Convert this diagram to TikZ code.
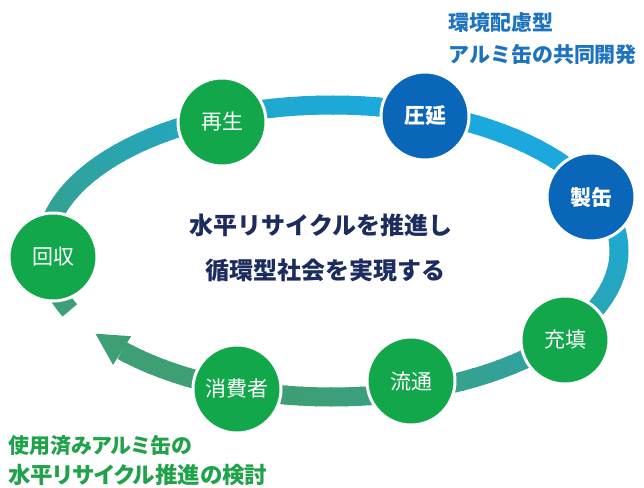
\documentclass[tikz,border=0pt]{standalone}
\usepackage{fontspec}
\setmainfont{Noto Sans CJK JP}
\newfontfamily\jpp[RawFeature=+palt]{Noto Sans CJK JP}
\usetikzlibrary{calc}
\definecolor{ringC}{HTML}{1BA9DD}
\definecolor{ringG}{HTML}{3E9E74}
\definecolor{nodeG}{HTML}{12A74B}
\definecolor{nodeB}{HTML}{0A66B8}
\definecolor{navy}{HTML}{1C2C5E}
\definecolor{topblue}{HTML}{1E73BE}
\definecolor{botgreen}{HTML}{20A24A}
\begin{document}
\begin{tikzpicture}[x=1pt,y=-1pt,
  stage/.style={circle, minimum size=88pt, inner sep=0pt, draw=white, line width=3pt, text=white, font=\fontsize{21}{21}\selectfont},
  greenstage/.style={stage, fill=nodeG},
  bluestage/.style={stage, fill=nodeB, font=\fontsize{21}{21}\selectfont\bfseries},
  maintext/.style={font=\fontsize{24}{24}\selectfont\bfseries, text=navy, inner sep=0pt},
  toptext/.style={font=\fontsize{21}{21}\selectfont\bfseries, text=topblue, anchor=west, inner sep=0pt},
  bottext/.style={text=botgreen, anchor=west, inner sep=0pt}]
\useasboundingbox (0,0) rectangle (644,487);
% ring with gradient
\foreach \t in {156,159,...,495} {
  \pgfmathsetmacro\te{min(\t+3.4,497)}
  \pgfmathsetmacro\mx{cos(\t+1.5)}
  \pgfmathsetmacro\my{sin(\t+1.5)}
  \pgfmathsetmacro\p{max(0,min(100,50+55*(0.6*\mx-0.8*\my)))}
  \colorlet{segc}{ringC!\p!ringG}
  \draw[segc, line width=19pt] plot[domain=\t:\te, samples=4] ({332+287*cos(\x)},{251+146*sin(\x)});
}
\coordinate (hb) at ({332+287*cos(497)},{251+146*sin(497)});
\coordinate (tip) at ({332+287*cos(505.5)},{251+146*sin(505.5)});
\fill[ringG] (tip) -- ($(hb)!17pt!90:(tip)$) -- ($(hb)!17pt!-90:(tip)$) -- cycle;
% stages
\node[greenstage] (kaishu) at (53,257) {回収};
\node[greenstage] (saisei) at (222,122) {再生};
\node[bluestage] (atsuen) at (425,116) {圧延};
\node[bluestage] (seikan) at (591,197) {製缶};
\node[greenstage] (juten) at (565,340) {充填};
\node[greenstage] (ryutsu) at (411,381) {流通};
\node[greenstage] (shohi) at (237,389) {消費者};
% texts
\node[maintext] (m1) at (321,225) {水平リサイクルを推進し};
\node[maintext] (m2) at (325,270) {循環型社会を実現する};
\node[toptext] (t1) at (448,23) {環境配慮型};
\node[toptext] (t2) at (448,54) {アルミ缶の共同開発};
\node[bottext, font=\fontsize{21}{21}\selectfont\jpp\bfseries] (b1) at (8,446) {使用済みアルミ缶の};
\node[bottext, font=\fontsize{22.5}{22.5}\selectfont\jpp\bfseries] (b2) at (8,475) {水平リサイクル推進の検討};
\end{tikzpicture}
\end{document}
